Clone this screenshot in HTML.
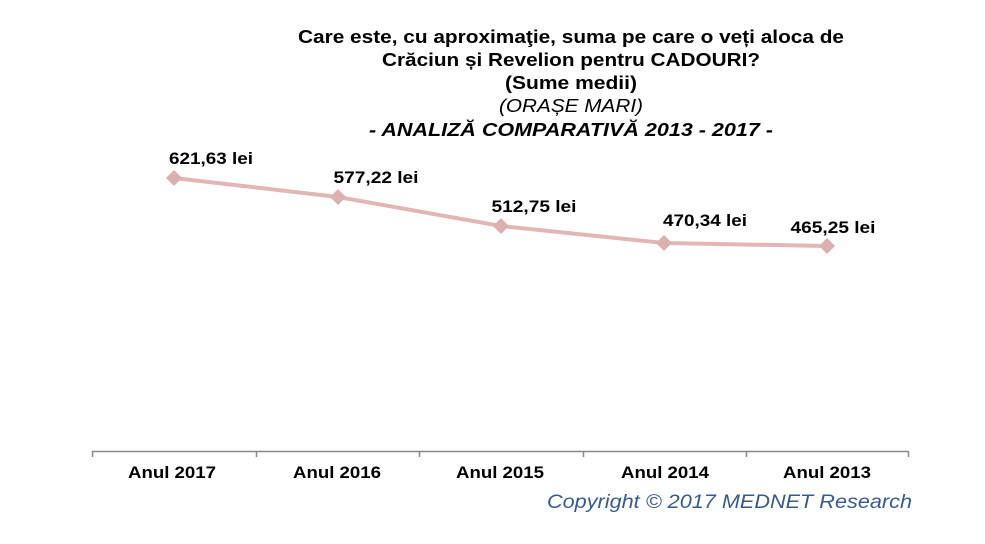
<!DOCTYPE html><html><head><style>body{margin:0;background:#fff}</style></head><body>
<svg width="985" height="539" xmlns="http://www.w3.org/2000/svg" font-family="Liberation Sans, Arial, sans-serif">
<g font-size="18" font-weight="bold" text-anchor="middle" fill="#000" lengthAdjust="spacingAndGlyphs">
<text x="571" y="43" textLength="546" lengthAdjust="spacingAndGlyphs">Care este, cu aproximaţie, suma pe care o veți aloca de</text>
<text x="571" y="66" textLength="378" lengthAdjust="spacingAndGlyphs">Crăciun și  Revelion pentru CADOURI?</text>
<text x="571" y="89" textLength="132" lengthAdjust="spacingAndGlyphs">(Sume medii)</text>
<text x="571" y="112" font-weight="normal" font-style="italic" textLength="144" lengthAdjust="spacingAndGlyphs">(ORAȘE MARI)</text>
<text x="571" y="136" font-style="italic" textLength="404" lengthAdjust="spacingAndGlyphs">- ANALIZĂ COMPARATIVĂ 2013 - 2017 -</text>
</g>
<polyline points="174,178 338,197 501,226 664,243 827,246" fill="none" stroke="#e2b6b6" stroke-width="4"/>
<g fill="#ddb0b0">
<path d="M174,170l8,8l-8,8l-8,-8z"/><path d="M338,189l8,8l-8,8l-8,-8z"/><path d="M501,218l8,8l-8,8l-8,-8z"/><path d="M664,235l8,8l-8,8l-8,-8z"/><path d="M827,238l8,8l-8,8l-8,-8z"/>
</g>
<g font-size="17" font-weight="bold" text-anchor="middle">
<text x="211" y="164" textLength="84" lengthAdjust="spacingAndGlyphs">621,63 lei</text>
<text x="376" y="183" textLength="85" lengthAdjust="spacingAndGlyphs">577,22 lei</text>
<text x="534" y="212" textLength="85" lengthAdjust="spacingAndGlyphs">512,75 lei</text>
<text x="705" y="226" textLength="84" lengthAdjust="spacingAndGlyphs">470,34 lei</text>
<text x="833" y="233" textLength="85" lengthAdjust="spacingAndGlyphs">465,25 lei</text>
</g>
<g stroke="#888" stroke-width="1.5" fill="none">
<line x1="92" y1="451.5" x2="908" y2="451.5"/>
<path d="M92.5,451v6M256.5,451v6M419.5,451v6M583.5,451v6M746.5,451v6M908.5,451v6"/>
</g>
<g font-size="17" font-weight="bold" text-anchor="middle">
<text x="172" y="478" textLength="88" lengthAdjust="spacingAndGlyphs">Anul 2017</text><text x="337" y="478" textLength="88" lengthAdjust="spacingAndGlyphs">Anul 2016</text><text x="500" y="478" textLength="88" lengthAdjust="spacingAndGlyphs">Anul 2015</text><text x="665" y="478" textLength="88" lengthAdjust="spacingAndGlyphs">Anul 2014</text><text x="827" y="478" textLength="88" lengthAdjust="spacingAndGlyphs">Anul 2013</text>
</g>
<text x="912" y="508" text-anchor="end" font-size="19" font-style="italic" fill="#3a5a8c" textLength="365" lengthAdjust="spacingAndGlyphs">Copyright ©  2017 MEDNET Research</text>
</svg>
</body></html>
